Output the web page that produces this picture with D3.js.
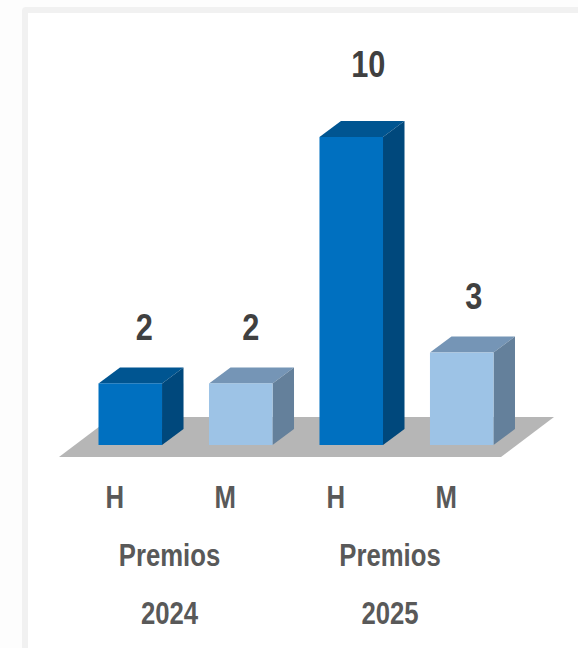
<!DOCTYPE html>
<html><head><meta charset="utf-8">
<script src="https://cdn.jsdelivr.net/npm/d3@7/dist/d3.min.js"></script>
<style>html,body{margin:0;padding:0;background:#fdfdfd;overflow:hidden}svg{display:block}</style>
</head><body><svg id="c" width="578" height="648"></svg>
<script>
const keys = ["H 2024","M 2024","H 2025","M 2025"];
const labels = ["H","M","H","M"];
const values = [2,2,10,3];
const groups = ["Premios 2024","Premios 2025"];
const groupLine1 = ["Premios","Premios"];
const groupLine2 = ["2024","2025"];
const fronts = ["#0070c0","#9dc3e6","#0070c0","#9dc3e6"];
const tops = ["#005591","#7595b6","#005591","#7595b6"];
const sides = ["#00487c","#64809b","#00487c","#64809b"];

const svg = d3.select("#c");
const font = "'Liberation Sans',Arial,sans-serif";
const squeeze = 0.83;
const dx = 21.5, dy = -16;
const x = d3.scaleBand().domain(keys).range([98.5,493.5]).paddingInner(0.425).paddingOuter(0);
const y = d3.scaleLinear().domain([0,10]).range([445,137]);
const gx = d3.scaleBand().domain(groups).range([59,501]).padding(0);

// panel
svg.append("rect").attr("x",22).attr("y",7).attr("width",600).attr("height",700).attr("rx",4).attr("fill","#f1f1f1");
svg.append("rect").attr("x",28).attr("y",13).attr("width",600).attr("height",700).attr("fill","#ffffff");

// floor
const fl=59, fr=501, fb=457, ft=417;
svg.append("path").attr("d",d3.line()([[fl,fb],[fr,fb],[fr+53,ft],[fl+53,ft]])+"Z").attr("fill","#b6b6b6");

// bars
const bar = svg.selectAll("g.bar").data(keys).join("g").attr("class","bar");
bar.each(function(k,i){
  const g=d3.select(this), x0=x(k), x1=x0+x.bandwidth(), yt=y(values[i]), yb=y(0);
  g.append("path").attr("d",d3.line()([[x0,yt],[x1,yt],[x1+dx,yt+dy],[x0+dx,yt+dy]])+"Z").attr("fill",tops[i]);
  g.append("path").attr("d",d3.line()([[x1,yt],[x1+dx,yt+dy],[x1+dx,yb+dy],[x1,yb]])+"Z").attr("fill",sides[i]);
  g.append("rect").attr("x",x0).attr("y",yt).attr("width",x.bandwidth()).attr("height",yb-yt).attr("fill",fronts[i]);
});

const place=(px,py)=>`translate(${px},${py}) scale(${squeeze},1)`;

// value labels
const valueShift=[14,10,17,12];
const valueRise=[43,43,60,44];
svg.selectAll("text.v").data(values).join("text").attr("class","v")
  .attr("transform",(d,i)=>place(x(keys[i])+x.bandwidth()/2+valueShift[i], y(d)-valueRise[i]))
  .attr("text-anchor","middle").attr("font-family",font).attr("font-weight","700")
  .attr("font-size",37).attr("fill","#404040").text(d=>d);

// category labels
svg.selectAll("text.l").data(labels).join("text").attr("class","l")
  .attr("transform",(d,i)=>place(x(keys[i])+x.bandwidth()/2-15.5,508))
  .attr("text-anchor","middle").attr("font-family",font).attr("font-weight","700")
  .attr("font-size",31).attr("fill","#595959").text(d=>d);

// group labels
[[groupLine1,566],[groupLine2,624]].forEach(([arr,yy])=>{
  svg.selectAll(null).data(arr).join("text")
    .attr("transform",(d,i)=>place(gx(groups[i])+gx.bandwidth()/2-(i?0.5:0),yy))
    .attr("text-anchor","middle").attr("font-family",font).attr("font-weight","700")
    .attr("font-size",31).attr("fill","#595959").text(d=>d);
});
</script></body></html>
